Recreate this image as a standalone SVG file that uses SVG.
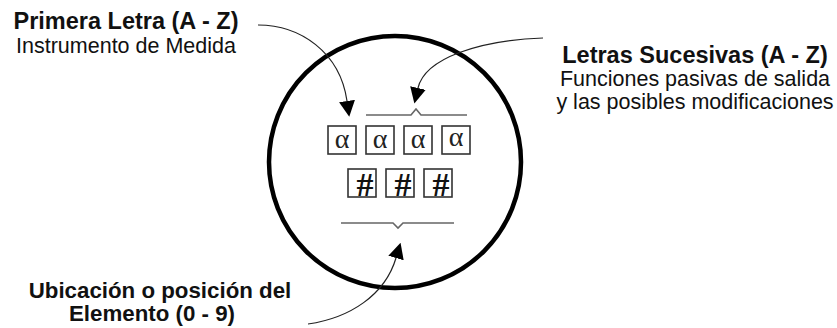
<svg xmlns="http://www.w3.org/2000/svg" width="837" height="328" viewBox="0 0 837 328">
<style>
.b{font-family:"Liberation Sans",Arial,sans-serif;font-weight:bold;font-size:23.5px;fill:#111;text-anchor:middle}
.b2{font-family:"Liberation Sans",Arial,sans-serif;font-weight:bold;font-size:22.3px;fill:#111;text-anchor:middle}
.r{font-family:"Liberation Sans",Arial,sans-serif;font-size:21.5px;fill:#111;text-anchor:middle}
.box{fill:#fff;stroke:#333;stroke-width:1.6}
.a{font-family:"Liberation Serif","Times New Roman",serif;font-size:28px;fill:#222;text-anchor:middle}
.h{font-family:"Liberation Serif","Times New Roman",serif;font-size:34px;font-weight:bold;fill:#111;text-anchor:middle}
.con{fill:none;stroke:#222;stroke-width:1.2}
.brace{fill:none;stroke:#666;stroke-width:1.6}
</style>
<defs>
<marker id="ah" viewBox="0 0 16 16" refX="0" refY="8" markerWidth="16" markerHeight="16" markerUnits="userSpaceOnUse" orient="auto">
<path d="M0,0 L16,8 L0,16 Z" fill="#000"/>
</marker>
</defs>
<rect width="837" height="328" fill="#fff"/>
<g id="circle">
<circle cx="395" cy="162" r="126" fill="none" stroke="#000" stroke-width="4.5"/>
</g>
<g id="label-primera">
<text class="b" x="126" y="29">Primera Letra (A - Z)</text>
<text class="r" x="126" y="53">Instrumento de Medida</text>
</g>
<g id="label-sucesivas">
<text class="b" x="695" y="63">Letras Sucesivas (A - Z)</text>
<text class="r" x="695" y="86">Funciones pasivas de salida</text>
<text class="r" x="695" y="109">y las posibles modificaciones</text>
</g>
<g id="label-ubicacion">
<text class="b2" x="160" y="298">Ubicación o posición del</text>
<text class="b2" x="152" y="321">Elemento (0 - 9)</text>
</g>
<g id="letters">
<rect class="box" x="328" y="126" width="28" height="28"/>
<rect class="box" x="366" y="126" width="28" height="28"/>
<rect class="box" x="404" y="126" width="28" height="28"/>
<rect class="box" x="442" y="126" width="28" height="28"/>
<text class="a" x="342" y="148">α</text>
<text class="a" x="380" y="148">α</text>
<text class="a" x="418" y="148">α</text>
<text class="a" x="456" y="146">α</text>
</g>
<g id="numbers">
<rect class="box" x="348" y="169" width="28" height="28"/>
<rect class="box" x="386" y="169" width="28" height="28"/>
<rect class="box" x="424" y="169" width="28" height="28"/>
<text class="h" x="365" y="196">#</text>
<text class="h" x="403" y="196">#</text>
<text class="h" x="441" y="196">#</text>
</g>
<g id="braces">
<path class="brace" d="M366,115 L411,115 L416,109 L421,115 L467,115"/>
<path class="brace" d="M341,223 L393,223 L398,228 L403,223 L454,223"/>
</g>
<g id="connectors">
<path class="con" d="M258,25 C300,25 340,52 347,101" marker-end="url(#ah)"/>
<path class="con" d="M543,38 C480,40 425,58 418,88" marker-end="url(#ah)"/>
<path class="con" d="M308,324 C350,318 385,295 396,258" marker-end="url(#ah)"/>
</g>
</svg>
